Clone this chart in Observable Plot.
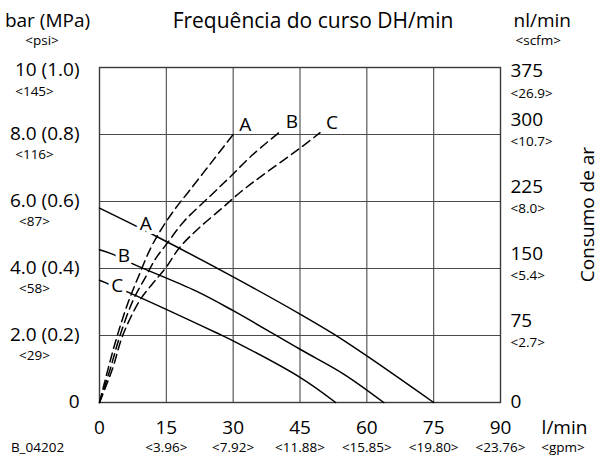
<!DOCTYPE html>
<html><head><meta charset="utf-8">
<script src="https://cdn.jsdelivr.net/npm/d3@7"></script>
<script src="https://cdn.jsdelivr.net/npm/@observablehq/plot@0.6"></script>
<style>body{margin:0;background:#fff} svg{display:block}</style>
</head><body><div id="chart"></div>
<script>
// ---- axis ticks and labels ----
const flowTicks = [0, 15, 30, 45, 60, 75, 90];
const gpmLabels = ["", "<3.96>", "<7.92>", "<11.88>", "<15.85>", "<19.80>", "<23.76>"];
const pressureTicks = [0, 2, 4, 6, 8, 10];
const pressureLabels = ["0", "2.0 (0.2)", "4.0 (0.4)", "6.0 (0.6)", "8.0 (0.8)", "10 (1.0)"];
const psiLabels = ["", "<29>", "<58>", "<87>", "<116>", "<145>"];
const airTicks = [0, 75, 150, 225, 300, 375];
const scfmLabels = ["", "<2.7>", "<5.4>", "<8.0>", "<10.7>", "<26.9>"];
const airMax = 375, pressureMax = 10;

// ---- solid curves: fluid flow (l/min) vs air pressure (bar) ----
const solidNames = ["A", "B", "C"];
const solidAx = [0, 12.6, 30, 45, 52.6, 60, 75];
const solidAy = [5.8, 4.97, 3.75, 2.64, 2.04, 1.39, 0];
const solidBx = [0, 2.9, 7.6, 21.6, 30, 45, 54.8, 63.8];
const solidBy = [4.56, 4.43, 4.13, 3.33, 2.74, 1.59, 0.85, 0];
const solidCx = [0, 2.15, 6.64, 26.1, 30, 45, 53];
const solidCy = [3.65, 3.53, 3.28, 2.09, 1.84, 0.75, 0];
// label anchors on the solid curves (l/min, bar)
const solidLabelX = [10.4, 5.5, 4.0];
const solidLabelY = [5.33, 4.38, 3.48];

// ---- dashed curves: air consumption (nl/min) vs fluid flow ----
const dashAx = [0, 2, 4, 6.5, 9, 11.5, 14, 17, 20, 25, 30];
const dashAy = [0, 39, 75, 113, 144, 173, 195, 217, 236, 268, 300];
const dashBx = [0, 2.5, 4.6, 7.5, 10.4, 12.6, 15.3, 19, 24.6, 29, 34.3, 40.5];
const dashBy = [0, 39, 75, 114, 141, 161, 179, 203, 230, 251, 277, 303];
const dashCx = [0, 3.0, 5.2, 9, 11.9, 14.9, 17.9, 21.6, 27.6, 32, 36.5, 44.8, 49.5];
const dashCy = [0, 39, 75, 114, 133, 151, 173, 192, 218, 237, 254, 284, 302];

// ---- build tables ----
const toBar = v => v * pressureMax / airMax;
const series = (k, xs, ys, f = v => v) => xs.map((x, i) => ({k, x, y: f(ys[i])}));
const solid = [
  ...series("A", solidAx, solidAy),
  ...series("B", solidBx, solidBy),
  ...series("C", solidCx, solidCy)
];
const dashed = [
  ...series("A", dashAx, dashAy, toBar),
  ...series("B", dashBx, dashBy, toBar),
  ...series("C", dashCx, dashCy, toBar)
];
const dashEnds = solidNames.map(k => dashed.filter(d => d.k === k).at(-1));
const solidLabels = solidNames.map((k, i) => ({k, x: solidLabelX[i], y: solidLabelY[i]}));
const xTickData = flowTicks.map((v, i) => ({v, sub: gpmLabels[i]}));
const leftData = pressureTicks.map((v, i) => ({v, main: pressureLabels[i], sub: psiLabels[i]}));
const rightData = airTicks.map((v, i) => ({v, b: toBar(v), main: String(v), sub: scfmLabels[i]}));
const isTop = d => d.v === d3.max(pressureTicks) || d.v === airMax;
const isBottom = d => d.v === 0;

const FONT = "Open Sans";
const big = 19, small = 13.5, title = 21;
const C = {textAnchor: "middle", lineAnchor: "middle"};
const S = {textAnchor: "start", lineAnchor: "middle"};
const E = {textAnchor: "end", lineAnchor: "middle"};

const chart = Plot.plot({
  width: 600, height: 459,
  marginLeft: 99, marginRight: 100, marginTop: 67, marginBottom: 57,
  style: {fontFamily: FONT, background: "#fff", color: "#000"},
  x: {domain: [0, 90], axis: null},
  y: {domain: [0, 10], axis: null},
  marks: [
    Plot.ruleX(flowTicks.slice(1, -1), {stroke: "#4a4a4a", strokeWidth: 1.1}),
    Plot.ruleY(pressureTicks.slice(1, -1), {stroke: "#4a4a4a", strokeWidth: 1.1}),
    Plot.frame({stroke: "#3a3a3a", strokeWidth: 1.4}),
    Plot.line(solid, {x: "x", y: "y", z: "k", stroke: "#000", strokeWidth: 1.5, curve: "catmull-rom"}),
    Plot.line(dashed, {x: "x", y: "y", z: "k", stroke: "#000", strokeWidth: 1.5, strokeDasharray: "9,5", curve: "catmull-rom"}),
    Plot.text(solidLabels, {x: "x", y: "y", text: "k", ...C, fontSize: big, fill: "#000", stroke: "#fff", strokeWidth: 8}),
    Plot.text(dashEnds, {x: "x", y: "y", text: "k", ...C, dx: 12, dy: -10, fontSize: big, fill: "#000"}),
    // x axis
    Plot.text(xTickData, {x: "v", text: d => String(d.v), frameAnchor: "bottom", ...C, dy: 25, fontSize: big}),
    Plot.text(xTickData.filter(d => d.sub), {x: "v", text: "sub", frameAnchor: "bottom", ...C, dy: 45.5, fontSize: small}),
    Plot.text(["l/min"], {frameAnchor: "bottom-right", ...C, dx: 64, dy: 25, fontSize: big}),
    Plot.text(["<gpm>"], {frameAnchor: "bottom-right", ...C, dx: 62.5, dy: 45.5, fontSize: small}),
    Plot.text(["B_04202"], {frameAnchor: "bottom-left", ...C, dx: -62, dy: 45.5, fontSize: small}),
    // left axis
    Plot.text(leftData.filter(d => !isTop(d)), {y: "v", text: "main", frameAnchor: "left", ...E, dx: -20, dy: -1, fontSize: big}),
    Plot.text(leftData.filter(isTop), {y: "v", text: "main", frameAnchor: "left", ...E, dx: -20, dy: 2.5, fontSize: big}),
    Plot.text(leftData.filter(d => d.sub && !isTop(d)), {y: "v", text: "sub", frameAnchor: "left", ...C, dx: -65, dy: 20.5, fontSize: small}),
    Plot.text(leftData.filter(isTop), {y: "v", text: "sub", frameAnchor: "left", ...C, dx: -65, dy: 24, fontSize: small}),
    Plot.text(["bar (MPa)"], {frameAnchor: "top-left", ...C, dx: -52, dy: -47, fontSize: big}),
    Plot.text(["<psi>"], {frameAnchor: "top-left", ...C, dx: -57.5, dy: -26.5, fontSize: small}),
    // right axis
    Plot.text(rightData.filter(d => !isTop(d) && !isBottom(d)), {y: "b", text: "main", frameAnchor: "right", ...S, dx: 10, dy: -14.5, fontSize: big}),
    Plot.text(rightData.filter(isTop), {y: "b", text: "main", frameAnchor: "right", ...S, dx: 10, dy: 3, fontSize: big}),
    Plot.text(rightData.filter(isBottom), {y: "b", text: "main", frameAnchor: "right", ...S, dx: 10, dy: -1, fontSize: big}),
    Plot.text(rightData.filter(d => d.sub && !isTop(d)), {y: "b", text: "sub", frameAnchor: "right", ...S, dx: 10, dy: 7.5, fontSize: small}),
    Plot.text(rightData.filter(isTop), {y: "b", text: "sub", frameAnchor: "right", ...S, dx: 10, dy: 26, fontSize: small}),
    Plot.text(["nl/min"], {frameAnchor: "top-right", ...S, dx: 13, dy: -47, fontSize: big}),
    Plot.text(["<scfm>"], {frameAnchor: "top-right", ...S, dx: 15, dy: -26.5, fontSize: small}),
    Plot.text(["Consumo de ar"], {frameAnchor: "right", ...C, dx: 87, dy: -20.5, rotate: -90, fontSize: big}),
    // title
    Plot.text(["Frequência do curso DH/min"], {frameAnchor: "top", ...C, dx: 13, dy: -46, fontSize: title})
  ]
});
document.getElementById("chart").appendChild(chart);
</script>
</body></html>
